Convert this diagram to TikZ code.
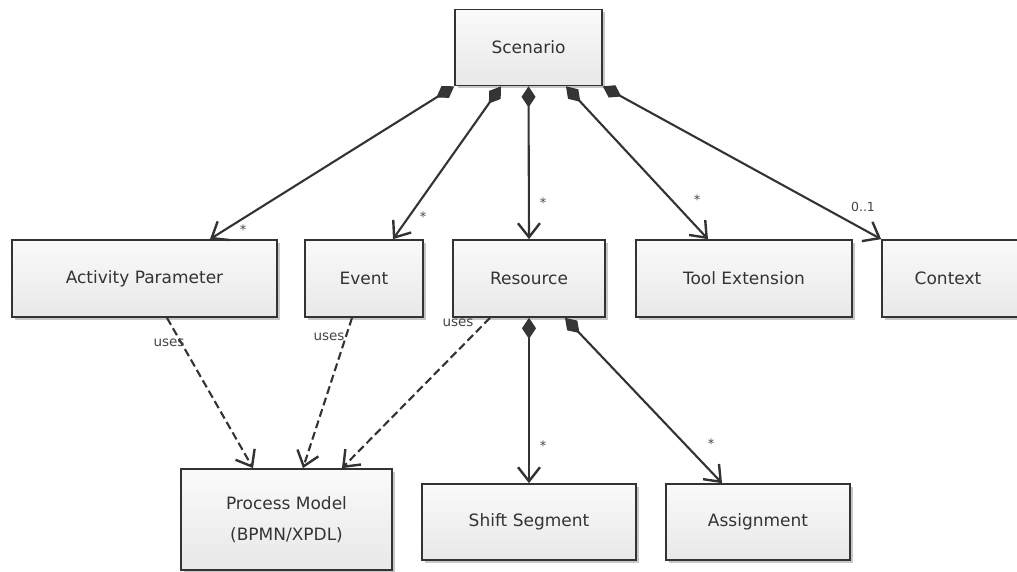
\documentclass[tikz,border=0pt]{standalone}
\usepackage{fontspec}
\setmainfont{DejaVu Sans}
\usetikzlibrary{arrows.meta,shadows}
\definecolor{edgecol}{HTML}{333333}
\definecolor{textcol}{HTML}{333333}
\definecolor{labcol}{HTML}{454545}
\definecolor{diacol}{HTML}{353535}
\tikzset{
  cls/.style={draw=edgecol, line width=1.7pt, top color=gray!4, bottom color=gray!18,
    text=textcol, font=\fontsize{17}{31}\selectfont, inner sep=0pt, align=center,
    drop shadow={shadow xshift=2.5pt, shadow yshift=-2.5pt, opacity=0.22, fill=black}},
  comp/.style={draw=edgecol, line width=2.1pt,
    {Diamond[length=21pt,width=14pt,fill=diacol,line width=1pt]}-{Straight Barb[length=14pt,width=22pt,line width=2.4pt]}},
  dep/.style={draw=edgecol, line width=2.1pt, dash pattern=on 8pt off 4pt,
    -{Straight Barb[length=14pt,width=22pt,line width=2.4pt]}},
  mult/.style={text=labcol, font=\fontsize{13}{14}\selectfont, inner sep=0pt},
  useslab/.style={text=labcol, font=\fontsize{13.5}{15}\selectfont, inner sep=0pt},
}
\begin{document}
\begin{tikzpicture}[x=1pt,y=-1pt]
\useasboundingbox (0,0) rectangle (1017,572);
\clip (0,0) rectangle (1017,572);

% classes
\node[cls, minimum width=147pt, minimum height=76pt] (sc) at (528.5,47.5) {Scenario};
\node[cls, minimum width=265pt, minimum height=77pt] (ap) at (144.5,278.5) {Activity Parameter};
\node[cls, minimum width=118pt, minimum height=77pt] (ev) at (364,278.5) {Event};
\node[cls, minimum width=152pt, minimum height=77pt] (rs) at (529,278.5) {Resource};
\node[cls, minimum width=216pt, minimum height=77pt] (te) at (744,278.5) {Tool Extension};
\node[cls, minimum width=140pt, minimum height=77pt] (cx) at (952,278.5) {\hspace*{-8pt}Context};
\node[cls, minimum width=211pt, minimum height=101pt] (pm) at (286.5,519.5) {Process Model\\(BPMN/XPDL)};
\node[cls, minimum width=214pt, minimum height=76pt] (ss) at (529,522) {Shift Segment};
\node[cls, minimum width=184pt, minimum height=76pt] (as) at (758,522) {Assignment};

% compositions owned by Scenario
\draw[comp] (sc.south west) -- ([xshift=65.5pt]ap.north);
\draw[comp] ([xshift=-27.5pt]sc.south) -- ([xshift=29pt]ev.north);
\draw[comp] (sc.south) -- (rs.north);
\draw[comp] ([xshift=37.5pt]sc.south) -- ([xshift=-36pt]te.north);
\draw[comp] (sc.south east) -- (cx.north west);

% compositions owned by Resource
\draw[comp] (rs.south) -- (ss.north);
\draw[comp] ([xshift=36pt]rs.south) -- ([xshift=-36pt]as.north);

% usage dependencies
\draw[dep] ([xshift=22.5pt]ap.south) -- ([xshift=-33.5pt]pm.north);
\draw[dep] ([xshift=-12pt]ev.south) -- ([xshift=16.5pt]pm.north);
\draw[dep] ([xshift=-39pt]rs.south) -- ([xshift=55.5pt]pm.north);

% multiplicities
\node[mult] (m1) at (243,230) {*};
\node[mult] (m2) at (423,217) {*};
\node[mult] (m3) at (543,203) {*};
\node[mult] (m4) at (697,200) {*};
\node[mult, font=\fontsize{12.5}{14}\selectfont] (m5) at (863,207) {0..1};
\node[mult] (m6) at (543,446) {*};
\node[mult] (m7) at (711,444) {*};

% dependency labels
\node[useslab] (u1) at (169,343) {uses};
\node[useslab] (u2) at (329,337) {uses};
\node[useslab] (u3) at (458,323) {uses};
\end{tikzpicture}
\end{document}
